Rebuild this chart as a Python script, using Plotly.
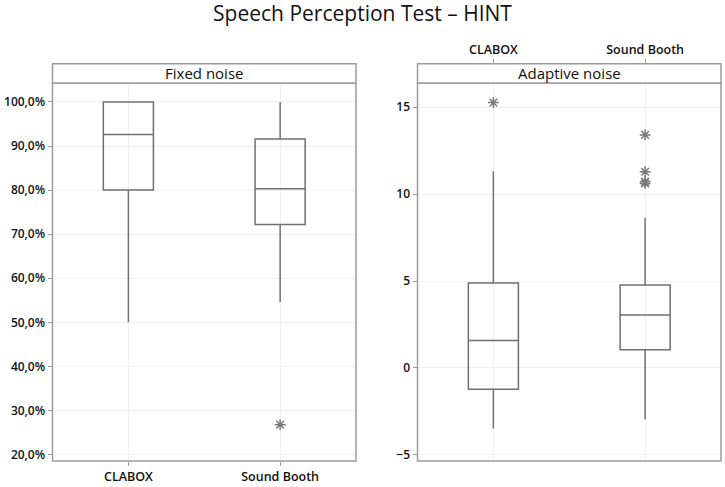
import plotly.graph_objects as go

W, H = 725, 487

categories = ["CLABOX", "Sound Booth"]

# Fixed noise (percent correct)
fixed_q1 = [80.0, 72.2]
fixed_median = [92.6, 80.3]
fixed_q3 = [100.0, 91.6]
fixed_lower = [50.0, 54.6]
fixed_upper = [100.0, 100.0]
fixed_out_x = ["Sound Booth"]
fixed_out_y = [26.8]
fixed_ticks = [20, 30, 40, 50, 60, 70, 80, 90, 100]
fixed_ticktext = ["20,0%", "30,0%", "40,0%", "50,0%", "60,0%", "70,0%", "80,0%", "90,0%", "100,0%"]

# Adaptive noise (dB SNR)
adapt_q1 = [-1.23, 1.05]
adapt_median = [1.58, 3.05]
adapt_q3 = [4.89, 4.77]
adapt_lower = [-3.48, -2.96]
adapt_upper = [11.32, 8.65]
adapt_out_x = ["CLABOX", "Sound Booth", "Sound Booth", "Sound Booth", "Sound Booth"]
adapt_out_y = [15.27, 13.41, 11.29, 10.72, 10.62]
adapt_ticks = [-5, 0, 5, 10, 15]

BOX_COLOR = "#707070"
OUT_COLOR = "#7a7a7a"
FRAME = "#9c9c9c"
GRID = "#f1f1f1"
FONT = "Open Sans"

def px(x):
    return x / W

def py(y):
    return 1 - y / H

fig = go.Figure()

outlier_marker = dict(symbol="asterisk-open", size=9, color=OUT_COLOR,
                      line=dict(color=OUT_COLOR, width=1.5))

fig.add_trace(go.Box(
    x=categories, q1=fixed_q1, median=fixed_median, q3=fixed_q3,
    lowerfence=fixed_lower, upperfence=fixed_upper,
    fillcolor="rgba(0,0,0,0)", line=dict(color=BOX_COLOR, width=1.5),
    whiskerwidth=0, width=0.33, boxpoints=False, showlegend=False,
    xaxis="x", yaxis="y", hoverinfo="skip"))
fig.add_trace(go.Scatter(
    x=fixed_out_x, y=fixed_out_y, mode="markers", marker=outlier_marker,
    showlegend=False, xaxis="x", yaxis="y"))

fig.add_trace(go.Box(
    x=categories, q1=adapt_q1, median=adapt_median, q3=adapt_q3,
    lowerfence=adapt_lower, upperfence=adapt_upper,
    fillcolor="rgba(0,0,0,0)", line=dict(color=BOX_COLOR, width=1.5),
    whiskerwidth=0, width=0.33, boxpoints=False, showlegend=False,
    xaxis="x2", yaxis="y2", hoverinfo="skip"))
fig.add_trace(go.Scatter(
    x=adapt_out_x, y=adapt_out_y, mode="markers", marker=outlier_marker,
    showlegend=False, xaxis="x2", yaxis="y2"))

L_x0, L_x1 = 52.5, 356.0
R_x0, R_x1 = 417.5, 721.0
P_top, P_bot = 83.3, 463.0
S_top = 64.0

ytickfont = dict(family=FONT, size=12, color="#111111", weight=600)
xtickfont = dict(family=FONT, size=12.5, color="#111111", weight=600)

fig.update_layout(
    width=W, height=H,
    margin=dict(l=0, r=0, t=0, b=0),
    paper_bgcolor="white", plot_bgcolor="white",
    title=dict(text="Speech Perception Test – HINT", x=0.5, xanchor="center",
               y=py(14), yanchor="middle",
               font=dict(family=FONT, size=21, color="#111111", weight=500)),
    xaxis=dict(domain=[px(L_x0), px(L_x1)], anchor="y", type="category",
               range=[-0.5, 1.5], showgrid=True, gridcolor=GRID, zeroline=False,
               showline=False, ticks="outside", ticklen=4, tickcolor=FRAME,
               tickfont=xtickfont),
    yaxis=dict(domain=[py(P_bot), py(P_top)], anchor="x", range=[18.53, 104.3],
               tickvals=fixed_ticks, ticktext=fixed_ticktext,
               showgrid=True, gridcolor=GRID, zeroline=False, showline=False,
               ticks="outside", ticklen=4, tickcolor=FRAME, tickfont=ytickfont),
    xaxis2=dict(domain=[px(R_x0), px(R_x1)], anchor="free", position=py(S_top),
                side="top", type="category", range=[-0.5, 1.5],
                showgrid=True, gridcolor=GRID, zeroline=False, showline=False,
                ticks="outside", ticklen=5, tickcolor=FRAME, tickfont=xtickfont),
    yaxis2=dict(domain=[py(P_bot), py(P_top)], anchor="x2", range=[-5.36, 16.40],
                tickvals=adapt_ticks,
                showgrid=True, gridcolor=GRID, zeroline=False, showline=False,
                ticks="outside", ticklen=4, tickcolor=FRAME, tickfont=ytickfont),
)

shapes = []
annotations = []
for (x0, x1, label) in [(L_x0, L_x1, "Fixed noise"), (R_x0, R_x1, "Adaptive noise")]:
    # plot frame
    shapes.append(dict(type="rect", xref="paper", yref="paper",
                       x0=px(x0), x1=px(x1), y0=py(P_bot), y1=py(P_top),
                       line=dict(color=FRAME, width=1.5), fillcolor="rgba(0,0,0,0)"))
    # strip
    shapes.append(dict(type="rect", xref="paper", yref="paper",
                       x0=px(x0), x1=px(x1), y0=py(P_top), y1=py(S_top),
                       line=dict(color=FRAME, width=1.5), fillcolor="white"))
    annotations.append(dict(text=label, xref="paper", yref="paper",
                            x=px((x0 + x1) / 2), y=py((P_top + S_top) / 2),
                            xanchor="center", yanchor="middle", showarrow=False,
                            font=dict(family=FONT, size=15, color="#111111")))

fig.update_layout(shapes=shapes, annotations=annotations)

fig.write_html("out.html")
